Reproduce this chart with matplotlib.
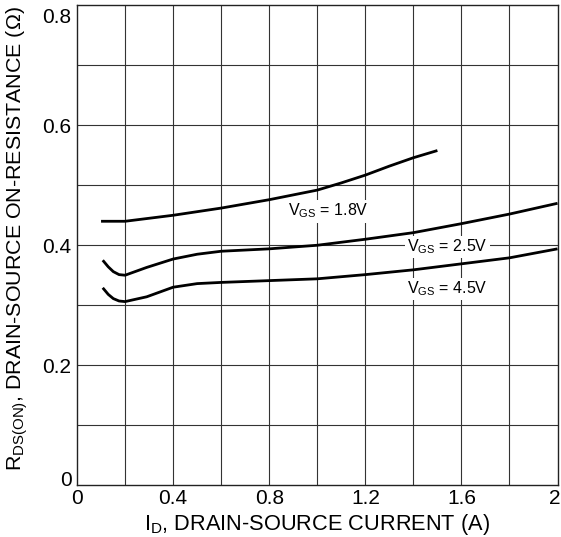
import matplotlib
matplotlib.use("Agg")
import matplotlib.pyplot as plt
from matplotlib.transforms import ScaledTranslation

plt.rcParams['font.family'] = ['Liberation Sans', 'DejaVu Sans']
plt.rcParams['mathtext.fontset'] = 'custom'
plt.rcParams['mathtext.rm'] = 'Liberation Sans'

# Drain current (A) and on-resistance (ohm) for each gate voltage
id_18 = [0.1, 0.2, 0.3, 0.4, 0.5, 0.6, 0.7, 0.8, 0.9, 1.0, 1.1, 1.2, 1.3, 1.4, 1.5]
r_18 = [0.440, 0.440, 0.445, 0.450, 0.456, 0.462, 0.469, 0.476, 0.484, 0.492, 0.504, 0.517, 0.532, 0.546, 0.558]

id_25 = [0.107, 0.13, 0.151, 0.175, 0.2, 0.29, 0.4, 0.5, 0.6, 0.8, 1.0, 1.2, 1.4, 1.6, 1.8, 2.0]
r_25 = [0.375, 0.364, 0.356, 0.351, 0.350, 0.363, 0.377, 0.385, 0.390, 0.394, 0.400, 0.410, 0.421, 0.436, 0.452, 0.470]

id_45 = [0.107, 0.13, 0.151, 0.175, 0.2, 0.29, 0.4, 0.5, 0.6, 0.8, 1.0, 1.2, 1.4, 1.6, 1.8, 2.0]
r_45 = [0.329, 0.318, 0.311, 0.307, 0.306, 0.314, 0.330, 0.336, 0.338, 0.341, 0.344, 0.351, 0.359, 0.369, 0.379, 0.394]

curve_labels = [r'$\mathregular{V_{GS}}$ = 1.8V', r'$\mathregular{V_{GS}}$ = 2.5V', r'$\mathregular{V_{GS}}$ = 4.5V']
label_pos = [(0.879, 0.457), (1.375, 0.397), (1.375, 0.327)]

x_ticks = [0, 0.4, 0.8, 1.2, 1.6, 2]
x_tick_labels = ['0', '0.4', '0.8', '1.2', '1.6', '2']
y_ticks = [0, 0.2, 0.4, 0.6, 0.8]
y_tick_labels = ['0', '0.2', '0.4', '0.6', '0.8']

fig = plt.figure(figsize=(5.61, 5.37), dpi=100)
ax = fig.add_axes([0.1373, 0.0968, 0.8565, 0.893])

ax.set_xlim(0, 2)
ax.set_ylim(0, 0.8)

# grid every 0.2 A and 0.1 ohm
for gx in [i * 0.2 for i in range(1, 10)]:
    ax.axvline(gx, color='#333333', lw=0.8, zorder=1)
for gy in [i * 0.1 for i in range(1, 8)]:
    ax.axhline(gy, color='#333333', lw=0.8, zorder=1)

for xs, ys in [(id_18, r_18), (id_25, r_25), (id_45, r_45)]:
    ax.plot(xs, ys, color='black', lw=2.0, zorder=3, solid_capstyle='butt')

for text, (lx, ly) in zip(curve_labels, label_pos):
    ax.text(lx, ly, text, fontsize=11.5, ha='left', va='center', zorder=4,
            bbox=dict(facecolor='white', edgecolor='none', pad=1.5))

ax.set_xticks(x_ticks)
ax.set_xticklabels(x_tick_labels)
ax.set_yticks(y_ticks)
ax.set_yticklabels(y_tick_labels)
ax.tick_params(axis='both', length=0, labelsize=15)
ax.tick_params(axis='x', pad=3)
ax.tick_params(axis='y', pad=4)

# keep the end labels inside the frame corners
ylabels = ax.get_yticklabels()
ylabels[0].set_transform(ylabels[0].get_transform() + ScaledTranslation(0, 7 / 100, fig.dpi_scale_trans))
ylabels[-1].set_transform(ylabels[-1].get_transform() + ScaledTranslation(0, -10 / 100, fig.dpi_scale_trans))
xlabels = ax.get_xticklabels()
xlabels[-1].set_transform(xlabels[-1].get_transform() + ScaledTranslation(-3 / 100, 0, fig.dpi_scale_trans))

for s in ax.spines.values():
    s.set_color('#222222')
    s.set_linewidth(1.0)

fig.text(317 / 561, 7 / 537, r'$\mathregular{I_D}$, DRAIN-SOURCE CURRENT (A)',
         fontsize=15.7, ha='center', va='baseline')
fig.text(17.5 / 561, 1 - 239 / 537, r'$\mathregular{R_{DS(ON)}}$, DRAIN-SOURCE ON-RESISTANCE (Ω)',
         fontsize=15.4, ha='center', va='center', rotation=90)

fig.savefig('out.png', dpi=100)
